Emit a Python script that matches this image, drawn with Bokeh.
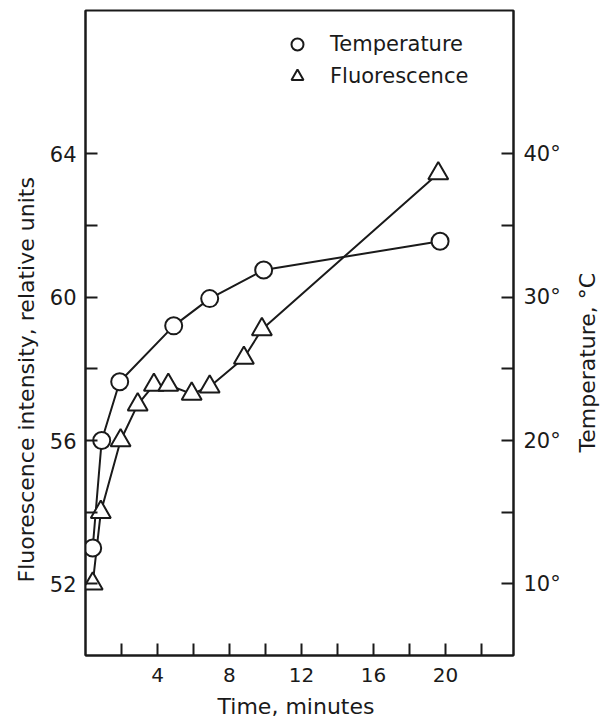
import math
from bokeh.plotting import figure
from bokeh.layouts import row
from bokeh.models import Range1d, LinearAxis, FixedTicker, Legend, LegendItem, Title
from bokeh.embed import file_html
from bokeh.resources import INLINE

# ---- data ----
time_temp = [0.4, 0.9, 1.9, 4.9, 6.9, 9.9, 19.7]
temperature_c = [12.5, 20.0, 24.1, 28.0, 29.9, 31.9, 33.9]

time_fluor = [0.4, 0.85, 1.95, 2.9, 3.8, 4.6, 5.9, 6.9, 8.8, 9.8, 19.6]
fluorescence = [52.0, 54.0, 56.0, 57.0, 57.55, 57.55, 57.3, 57.5, 58.3, 59.1, 63.45]

x_major = [4, 8, 12, 16, 20]
x_minor = [2, 6, 10, 14, 18, 22]
x_labels = ["4", "8", "12", "16", "20"]

fl_major = [52, 56, 60, 64]
fl_minor = [54, 58, 62]
fl_labels = ["52", "56", "60", "64"]

t_major = [10, 20, 30, 40]
t_minor = [15, 25, 35]
t_labels = ["10°", "20°", "30°", "40°"]

INK = "#1a1a1a"
FONT = "DejaVu Sans"

p = figure(width=572, height=724, output_backend="svg", toolbar_location=None,
           x_range=Range1d(0, 23.78), y_range=Range1d(50, 68),
           min_border_left=85, min_border_top=10, min_border_right=59, min_border_bottom=69)
p.extra_y_ranges = {"temp": Range1d(5, 50)}
p.grid.visible = False
p.background_fill_color = "white"
p.border_fill_color = "white"
p.outline_line_color = INK
p.outline_line_width = 2

def style_axis(ax):
    ax.axis_line_color = INK
    ax.axis_line_width = 2
    ax.major_tick_line_color = INK
    ax.minor_tick_line_color = INK
    ax.major_tick_line_width = 2
    ax.minor_tick_line_width = 2
    ax.major_tick_in = 12
    ax.major_tick_out = 0
    ax.minor_tick_in = 12
    ax.minor_tick_out = 0
    ax.major_label_text_font = FONT
    ax.major_label_text_font_size = "20px"
    ax.major_label_text_color = INK
    ax.axis_label_text_font = FONT
    ax.axis_label_text_font_size = "22px"
    ax.axis_label_text_font_style = "normal"
    ax.axis_label_text_color = INK

# x axis
xa = p.xaxis[0]
xa.ticker = FixedTicker(ticks=x_major, minor_ticks=x_minor)
xa.major_label_overrides = dict(zip(x_major, x_labels))
xa.axis_label = "Time,  minutes"
style_axis(xa)
xa.major_label_standoff = 12
xa.axis_label_standoff = 9

# left axis
ya = p.yaxis[0]
ya.ticker = FixedTicker(ticks=fl_major, minor_ticks=fl_minor)
ya.major_label_overrides = dict(zip(fl_major, fl_labels))
style_axis(ya)
ya.major_label_text_font_size = "21px"
ya.major_label_standoff = 9

# right axis
ra = LinearAxis(y_range_name="temp",
                ticker=FixedTicker(ticks=t_major, minor_ticks=t_minor))
ra.major_label_overrides = dict(zip(t_major, t_labels))
style_axis(ra)
ra.major_label_text_font_size = "21px"
ra.major_label_standoff = 10
p.add_layout(ra, "right")

# left axis title (offset along the axis, like the reference)
p.add_layout(Title(text="Fluorescence intensity, relative units", align="left",
                   offset=73, text_font=FONT, text_font_size="22px",
                   text_font_style="normal", text_color=INK, standoff=16), "left")

# lines
p.line(time_temp, temperature_c, y_range_name="temp", line_color=INK, line_width=2)
p.line(time_fluor, fluorescence, line_color=INK, line_width=2)

# markers
r_temp = p.scatter(time_temp, temperature_c, y_range_name="temp", marker="circle",
                   size=17, fill_color="white", line_color=INK, line_width=2)
r_fl = p.scatter(time_fluor, fluorescence, marker="triangle",
                 size=20, fill_color="white", line_color=INK, line_width=2)

legend = Legend(items=[LegendItem(label="Temperature", renderers=[r_temp]),
                       LegendItem(label="Fluorescence", renderers=[r_fl])],
                location=(197, 564), orientation="vertical",
                glyph_width=30, glyph_height=30, label_height=30, spacing=2,
                padding=0, margin=0, label_standoff=18,
                label_text_font=FONT, label_text_font_size="21px",
                label_text_color=INK, label_text_baseline="middle",
                border_line_alpha=0, background_fill_alpha=0)
p.add_layout(legend, "center")

# narrow strip carrying the right-hand axis title (reads bottom to top)
p2 = figure(width=28, height=724, output_backend="svg", toolbar_location=None,
            x_range=Range1d(0, 1), y_range=Range1d(0, 1),
            min_border_left=0, min_border_right=0, min_border_top=10, min_border_bottom=69)
p2.axis.visible = False
p2.grid.visible = False
p2.outline_line_color = None
p2.background_fill_color = "white"
p2.border_fill_color = "white"
p2.add_layout(Title(text="Temperature, °C", align="left", offset=203,
                    text_font=FONT, text_font_size="22px",
                    text_font_style="normal", text_color=INK, standoff=0), "left")

layout = row(p, p2, spacing=0)
open("out.html", "w").write(file_html(layout, INLINE))
